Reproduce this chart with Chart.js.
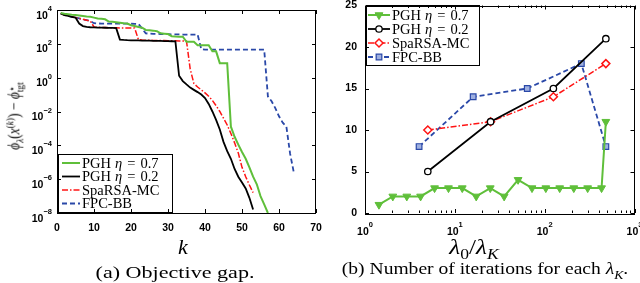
<!DOCTYPE html>
<html><head><meta charset="utf-8">
<script src="https://cdn.jsdelivr.net/npm/chart.js@4.4.0/dist/chart.umd.min.js"></script>
<style>
html,body{margin:0;padding:0;background:#fff;width:640px;height:283px;overflow:hidden;position:relative;}
canvas{position:absolute;top:0;}
#c1{left:0;}
#c2{left:320px;}
.lbl{position:absolute;white-space:nowrap;color:#000;font-family:"Liberation Serif","DejaVu Serif",serif;line-height:1;}
.lbl i{font-style:italic;}
.sub{font-size:70%;vertical-align:-0.35em;}
.sup{font-size:70%;vertical-align:0.55em;}
</style></head><body>
<canvas id="c1" width="335" height="235" style="width:335px;height:235px"></canvas>
<canvas id="c2" width="320" height="235" style="width:320px;height:235px"></canvas>

<div class="lbl" id="ylab" style="font-size:16px;left:15px;top:116px;transform:translate(-50%,-50%) rotate(-90deg) scaleX(0.84);">
<i>ϕ</i><span class="sub"><i>λ</i></span>(<i>x</i><span class="sup">(<i>k</i>)</span>) − <i>ϕ</i><span style="display:inline-block;vertical-align:middle;line-height:0.8;font-size:70%;text-align:left;"><span style="display:block">⋆</span><span style="display:block">tgt</span></span>
</div>
<div class="lbl" style="font-size:22px;left:183px;top:247px;transform:translate(-50%,-50%);"><i>k</i></div>
<div class="lbl" style="font-size:21px;left:474px;top:249px;transform:translate(-50%,-50%) scaleX(1.2);"><i>λ</i><span class="sub">0</span>/<i>λ</i><span class="sub"><i>K</i></span></div>
<div class="lbl" style="font-size:17px;left:175px;top:272px;transform:translate(-50%,-50%) scaleX(1.3);">(a) Objective gap.</div>
<div class="lbl" style="font-size:17px;left:485px;top:271px;transform:translate(-50%,-50%) scaleX(1.15);">(b) Number of iterations for each <i>λ</i><span class="sub"><i>K</i></span>.</div>

<script>
// ---------- data: objective gap vs iteration k (k = 1, 2, ...) ----------
const gapPGH07 = [6607, 6026, 5623, 5248, 5012, 4786, 4467, 4169, 3981, 3548,
  3162, 3020, 2818, 2089, 1995, 1905, 1778, 1660, 1585, 1259,
  1122, 1000, 891, 661, 631, 603, 562, 417, 398, 380,
  282, 270, 263, 263, 132, 132, 132, 83, 83, 83,
  83, 36, 36, 7.2, 7.2, 7.2, 1.26e-3, 3.2e-4, 1.1e-4, 4e-5,
  1.6e-5, 5e-6, 1.4e-6, 5e-7, 1e-7, 3.2e-8, 1e-8];
const gapPGH02 = [6310, 5012, 4467, 3981, 3548, 1585, 1122, 1000, 955, 933,
  912, 900, 890, 880, 870, 851, 178, 170, 165, 162,
  160, 158, 156, 155, 153, 151, 150, 148, 146, 144,
  142, 140, 1.3, 0.63, 0.4, 0.26, 0.19, 0.14, 0.1, 0.063,
  0.028, 0.01, 3.2e-3, 8.7e-4, 1.6e-4, 4.5e-5, 1.6e-5, 4e-6, 1.4e-6, 6.3e-7,
  2.8e-7, 7.9e-8, 1.6e-8];
const gapSpaRSA = [6310, 5012, 4467, 3981, 3548, 3162, 2818, 2512, 2239, 1000,
  955, 933, 912, 900, 890, 880, 870, 860, 855, 851,
  851, 178, 170, 165, 162, 160, 158, 156, 155, 153,
  151, 150, 149, 148, 145, 3.2, 0.45, 0.28, 0.19, 0.126,
  0.079, 0.045, 0.022, 0.01, 4e-3, 1.6e-3, 5e-4, 1.4e-4, 3.5e-5, 5e-6,
  1.4e-6, 4.5e-7, 1.6e-7];
const gapFPCBB = [6310, 5248, 4467, 3981, 3548, 3162, 2818, 2512, 2239, 1660,
  1600, 1585, 1585, 1585, 1580, 1575, 1570, 1560, 1550, 1540,
  1530, 1514, 794, 417, 398, 390, 385, 380, 375, 370,
  365, 360, 358, 355, 355, 355, 355, 355, 48, 45,
  45, 45, 45, 45, 45, 45, 45, 45, 45, 45,
  45, 45, 45, 45, 45, 45, 0.079, 0.04, 0.016, 5.2e-3,
  2.2e-3, 1.26e-3, 3.2e-5, 2.5e-6];

// ---------- data: iterations per lambda_K vs lambda_0/lambda_K ----------
const ratioPGH07 = [1.43, 2.04, 2.92, 4.16, 5.95, 8.5, 12.1, 17.3, 24.8, 35.4, 50.6, 72.3, 103, 147, 211, 301, 430, 480];
const itersPGH07 = [1, 2, 2, 2, 3, 3, 3, 2, 3, 2, 4, 3, 3, 3, 3, 3, 3, 11];
const ratioPGH02 = [5, 25, 125, 480];
const itersPGH02 = [5, 11, 15, 21];
const ratioSpaRSA = [5, 25, 125, 480];
const itersSpaRSA = [10, 11, 14, 18];
const ratioFPCBB = [4, 16, 64, 256, 480];
const itersFPCBB = [8, 14, 15, 18, 8];

// ---------- tick labels ----------
const leftXTicks = [0, 10, 20, 30, 40, 50, 60, 70];
const leftYTicks = [1e-8, 1e-6, 1e-4, 1e-2, 1, 1e2, 1e4];
const leftYExp = ['−8', '−6', '−4', '−2', '0', '2', '4'];
const rightXTicks = [1, 10, 100, 1000];
const rightXExp = ['0', '1', '2', '3'];
const rightXMinor = [2,3,4,5,6,7,8,9,20,30,40,50,60,70,80,90,200,300,400,500,600,700,800,900];
const rightYTicks = [0, 5, 10, 15, 20, 25];
const seriesNames = ['PGH η = 0.7', 'PGH η = 0.2', 'SpaRSA-MC', 'FPC-BB'];

const GREEN = '#5fbf3a', BLACK = '#000000', RED = '#ff1414', BLUE = '#2a48a8';
const TICKFONT = 'bold 10.5px "Liberation Sans", Arial, sans-serif';
const EXPFONT = 'bold 7.5px "Liberation Sans", Arial, sans-serif';

const toXY = (ys) => ys.map((v, i) => ({x: i + 1, y: v}));
const zipXY = (xs, ys) => xs.map((v, i) => ({x: v, y: ys[i]}));

function drawLegendText(ctx, x, y, name) {
  ctx.fillStyle = '#000';
  ctx.textBaseline = 'middle';
  ctx.textAlign = 'left';
  const m = name.match(/^(PGH) (η) = (.*)$/);
  const f = '14.5px "Liberation Serif", serif';
  const fi = 'italic 14.5px "Liberation Serif", serif';
  if (m) {
    const parts = [[m[1], f, 4], [m[2], fi, 5], ['=', f, 5], [m[3], f, 0]];
    for (const [t, font, gap] of parts) {
      ctx.font = font; ctx.fillText(t, x, y); x += ctx.measureText(t).width + gap;
    }
  } else {
    ctx.font = f; ctx.fillText(name, x, y);
  }
}

const framePlugin = {
  id: 'frame',
  afterDraw(chart, args, o) {
    const ctx = chart.ctx, a = chart.chartArea;
    const xs = chart.scales.x, ys = chart.scales.y;
    ctx.save();
    // legend box
    const L = o.legend;
    ctx.fillStyle = '#fff';
    ctx.fillRect(L.x, L.y, L.w, L.h);
    ctx.strokeStyle = '#000'; ctx.lineWidth = 1; ctx.setLineDash([]);
    ctx.strokeRect(L.x + 0.5, L.y + 0.5, L.w - 1, L.h - 1);
    chart.data.datasets.forEach((ds, i) => {
      const yy = L.y + L.row0 + i * L.step;
      ctx.save();
      ctx.beginPath();
      ctx.strokeStyle = ds.borderColor; ctx.lineWidth = ds.borderWidth;
      ctx.setLineDash(ds.borderDash || []);
      ctx.moveTo(L.x + L.l0, yy); ctx.lineTo(L.x + L.l1, yy); ctx.stroke();
      ctx.setLineDash([]);
      if (ds.pointRadius > 0) {
        ctx.fillStyle = ds.pointBackgroundColor; ctx.strokeStyle = ds.borderColor;
        ctx.lineWidth = ds.pointBorderWidth;
        Chart.helpers.drawPoint(ctx, {pointStyle: ds.pointStyle, radius: ds.pointRadius, rotation: ds.pointRotation || 0, borderWidth: ds.pointBorderWidth}, L.x + (L.l0 + L.l1) / 2, yy);
      }
      ctx.restore();
      drawLegendText(ctx, L.x + L.t0, yy + 1, seriesNames[i]);
    });
    // frame
    ctx.strokeStyle = '#000'; ctx.lineWidth = 1;
    ctx.strokeRect(Math.round(a.left) + 0.5, Math.round(a.top) + 0.5, Math.round(a.right - a.left) - 1, Math.round(a.bottom - a.top));
    const tick = (x1, y1, x2, y2) => { ctx.beginPath(); ctx.moveTo(x1, y1); ctx.lineTo(x2, y2); ctx.stroke(); };
    for (const v of o.xMajor) { const px = Math.round(xs.getPixelForValue(v)) + 0.5; tick(px, a.bottom, px, a.bottom - 4); tick(px, a.top, px, a.top + 4); }
    for (const v of (o.xMinor || [])) { const px = Math.round(xs.getPixelForValue(v)) + 0.5; tick(px, a.bottom, px, a.bottom - 2.5); tick(px, a.top, px, a.top + 2.5); }
    for (const v of o.yMajor) { const py = Math.round(ys.getPixelForValue(v)) + 0.5; tick(a.left, py, a.left + 4, py); tick(a.right, py, a.right - 4, py); }
    // power-of-ten labels
    ctx.fillStyle = '#000'; ctx.textBaseline = 'alphabetic';
    if (o.yExp) {
      o.yMajor.forEach((v, i) => {
        const py = ys.getPixelForValue(v);
        ctx.font = EXPFONT; const we = ctx.measureText(o.yExp[i]).width;
        ctx.textAlign = 'left'; ctx.fillText(o.yExp[i], a.left - 5 - we, py + 1);
        ctx.font = TICKFONT; ctx.textAlign = 'right'; ctx.fillText('10', a.left - 5 - we, py + 8.5);
      });
    }
    if (o.xExp) {
      o.xMajor.forEach((v, i) => {
        const px = xs.getPixelForValue(v);
        ctx.font = EXPFONT; const we = ctx.measureText(o.xExp[i]).width;
        ctx.font = TICKFONT; const wb = ctx.measureText('10').width;
        const x0 = px - (wb + we) / 2;
        ctx.textAlign = 'left'; ctx.fillText('10', x0, a.bottom + 21.5);
        ctx.font = EXPFONT; ctx.fillText(o.xExp[i], x0 + wb, a.bottom + 14);
      });
    }
    ctx.restore();
  }
};

const noPad = s => { s.paddingTop = 0; s.paddingBottom = 0; s.paddingLeft = 0; s.paddingRight = 0; };
const lineBase = {fill: false, tension: 0, pointRadius: 0, pointHoverRadius: 0, spanGaps: true};

new Chart(document.getElementById('c1'), {
  type: 'line',
  data: {datasets: [
    {...lineBase, data: toXY(gapPGH07), borderColor: GREEN, borderWidth: 2},
    {...lineBase, data: toXY(gapPGH02), borderColor: BLACK, borderWidth: 1.8},
    {...lineBase, data: toXY(gapSpaRSA), borderColor: RED, borderWidth: 1.5, borderDash: [6, 2, 1.5, 2]},
    {...lineBase, data: toXY(gapFPCBB), borderColor: BLUE, borderWidth: 1.8, borderDash: [5, 3]}
  ]},
  options: {
    responsive: false, animation: false, devicePixelRatio: 1,
    layout: {padding: {left: 0, top: 10, right: 19, bottom: 0}},
    plugins: {legend: {display: false}, tooltip: {enabled: false},
      frame: {xMajor: leftXTicks, yMajor: leftYTicks, yExp: leftYExp,
        legend: {x: 58, y: 154, w: 115, h: 59, row0: 9, step: 13.5, l0: 4, l1: 22, t0: 24}}},
    scales: {
      x: {type: 'linear', min: 0, max: 70,
        afterBuildTicks: s => { s.ticks = leftXTicks.map(v => ({value: v})); },
        ticks: {color: '#000', font: {family: '"Liberation Sans", Arial, sans-serif', size: 10.5, weight: 'bold'}, padding: 9, maxRotation: 0, autoSkip: false},
        grid: {display: false, drawTicks: false}, border: {display: false},
        afterFit: s => { s.height = 22; noPad(s); }},
      y: {type: 'logarithmic', min: 1e-8, max: 1e4,
        ticks: {display: false}, grid: {display: false, drawTicks: false}, border: {display: false},
        afterFit: s => { s.width = 57; noPad(s); }}
    }
  },
  plugins: [framePlugin]
});

new Chart(document.getElementById('c2'), {
  type: 'line',
  data: {datasets: [
    {...lineBase, data: zipXY(ratioPGH07, itersPGH07), borderColor: GREEN, borderWidth: 2,
      pointRadius: 4.5, pointStyle: 'triangle', pointRotation: 180, pointBackgroundColor: GREEN, pointBorderColor: GREEN, pointBorderWidth: 1},
    {...lineBase, data: zipXY(ratioPGH02, itersPGH02), borderColor: BLACK, borderWidth: 1.8,
      pointRadius: 3.2, pointStyle: 'circle', pointBackgroundColor: '#fff', pointBorderColor: BLACK, pointBorderWidth: 1.3},
    {...lineBase, data: zipXY(ratioSpaRSA, itersSpaRSA), borderColor: RED, borderWidth: 1.5, borderDash: [6, 2, 1.5, 2],
      pointRadius: 4, pointStyle: 'rectRot', pointBackgroundColor: '#fff', pointBorderColor: RED, pointBorderWidth: 1.5},
    {...lineBase, data: zipXY(ratioFPCBB, itersFPCBB), borderColor: BLUE, borderWidth: 1.8, borderDash: [5, 3],
      pointRadius: 4, pointStyle: 'rect', pointBackgroundColor: '#9fb0e0', pointBorderColor: BLUE, pointBorderWidth: 1.2}
  ]},
  options: {
    responsive: false, animation: false, devicePixelRatio: 1,
    layout: {padding: {left: 0, top: 5, right: 5, bottom: 0}},
    plugins: {legend: {display: false}, tooltip: {enabled: false},
      frame: {xMajor: rightXTicks, xMinor: rightXMinor, xExp: rightXExp, yMajor: rightYTicks,
        legend: {x: 46, y: 5, w: 114, h: 61, row0: 10, step: 14, l0: 2, l1: 24, t0: 26}}},
    scales: {
      x: {type: 'logarithmic', min: 1, max: 1000,
        ticks: {display: false}, grid: {display: false, drawTicks: false}, border: {display: false},
        afterFit: s => { s.height = 22; noPad(s); }},
      y: {type: 'linear', min: 0, max: 25,
        afterBuildTicks: s => { s.ticks = rightYTicks.map(v => ({value: v})); },
        ticks: {color: '#000', font: {family: '"Liberation Sans", Arial, sans-serif', size: 10.5, weight: 'bold'}, padding: 8},
        grid: {display: false, drawTicks: false}, border: {display: false},
        afterFit: s => { s.width = 45; noPad(s); }}
    }
  },
  plugins: [framePlugin]
});
</script>
</body></html>
